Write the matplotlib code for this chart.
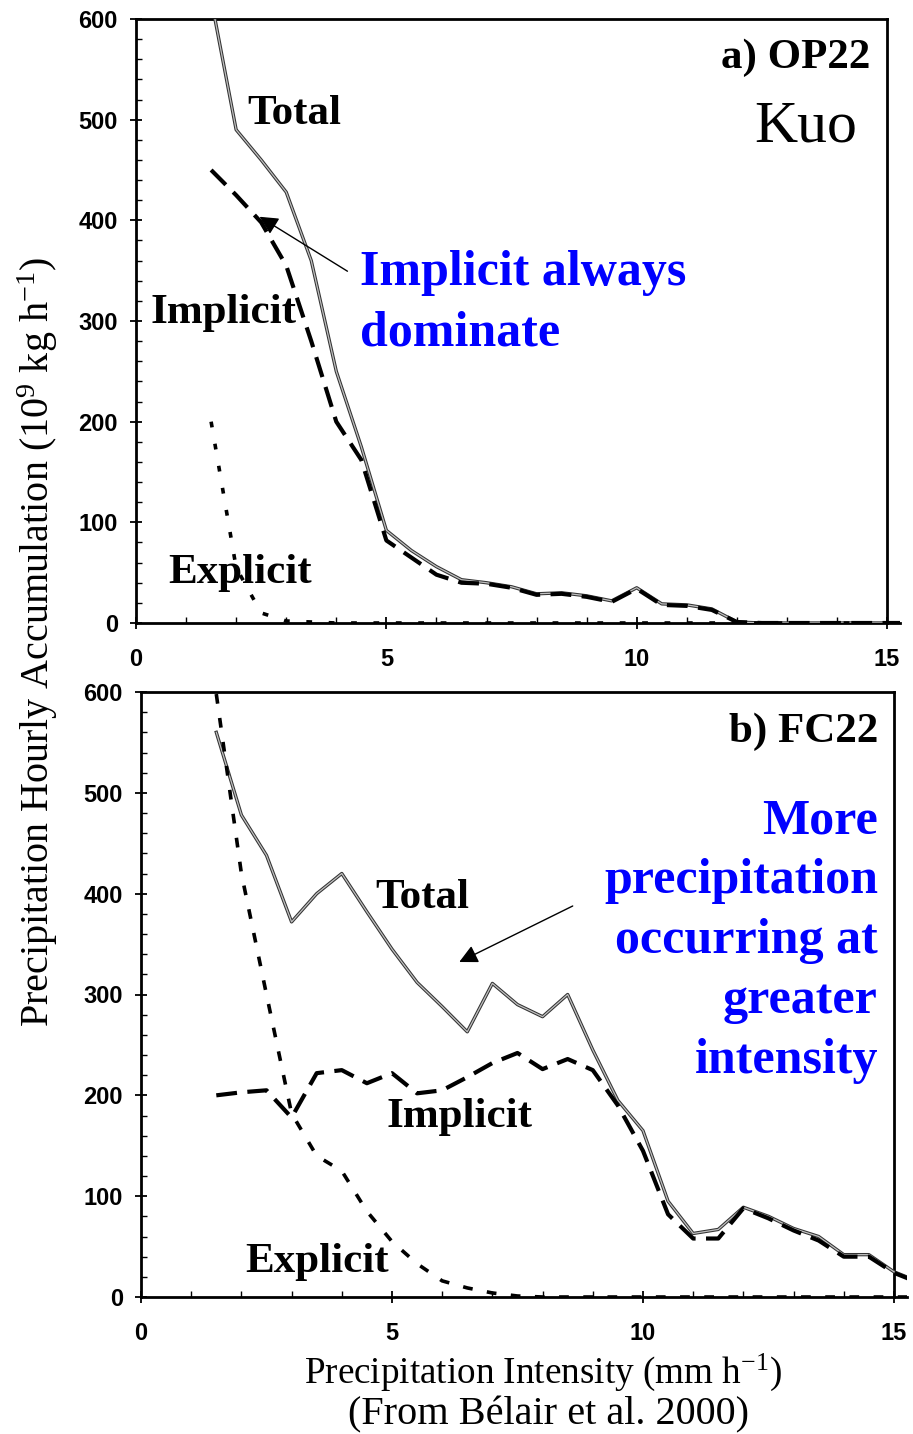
import matplotlib
matplotlib.use("Agg")
import matplotlib.pyplot as plt
from matplotlib.ticker import MultipleLocator

# precipitation intensity bins (mm h-1)
intensity = [1.5, 2.0, 2.5, 3.0, 3.5, 4.0, 4.5, 5.0, 5.5, 6.0, 6.5, 7.0, 7.5, 8.0,
             8.5, 9.0, 9.5, 10.0, 10.5, 11.0, 11.5, 12.0, 12.5, 13.0, 13.5, 14.0,
             14.5, 15.0, 15.5]

# a) OP22 (Kuo)
op22_total = [620, 490, 460, 428, 360, 250, 175, 92, 72, 56, 43, 40, 36, 29,
              30, 27, 22, 35, 19, 18, 14, 1, 0, 0, 0, 0, 0, 0, 0]
op22_implicit = [450, 425, 398, 355, 280, 200, 162, 82, 65, 48, 40, 39, 35, 28,
                 29, 26, 21, 34, 18, 17, 13, 1, 0, 0, 0, 0, 0, 0, 0]
op22_explicit = [200, 55, 10, 2, 1, 0, 0, 0, 0, 0, 0, 0, 0, 0,
                 0, 0, 0, 0, 0, 0, 0, 0, 0, 0, 0, 0, 0, 0, 0]

# b) FC22
fc22_total = [560, 478, 438, 372, 400, 420, 382, 345, 312, 288, 263, 311, 290, 278,
              300, 245, 195, 165, 95, 63, 67, 89, 80, 68, 60, 42, 42, 25, 15]
fc22_implicit = [200, 203, 205, 178, 222, 225, 212, 222, 202, 205, 218, 232, 242, 226,
                 236, 225, 190, 145, 82, 58, 58, 88, 78, 66, 56, 40, 40, 24, 14]
fc22_explicit = [598, 420, 300, 182, 140, 125, 85, 55, 33, 16, 9, 4, 1, 0,
                 0, 0, 0, 0, 0, 0, 0, 0, 0, 0, 0, 0, 0, 0, 0]

SERIF = "Liberation Serif"
SANS = "Liberation Sans"
BLUE = "#0000ff"

plt.rcParams["mathtext.fontset"] = "custom"
plt.rcParams["mathtext.rm"] = SERIF
plt.rcParams["mathtext.it"] = SERIF + ":italic"
plt.rcParams["mathtext.bf"] = SERIF + ":bold"

W, H = 913, 1434
fig = plt.figure(figsize=(W / 100, H / 100), dpi=100)


def px_axes(left, top, right, bottom):
    return fig.add_axes([left / W, 1 - bottom / H, (right - left) / W, (bottom - top) / H])


def style_axes(ax):
    ax.set_xlim(0, 15.25)
    ax.set_ylim(0, 600)
    ax.xaxis.set_major_locator(MultipleLocator(5))
    ax.xaxis.set_minor_locator(MultipleLocator(1))
    ax.yaxis.set_major_locator(MultipleLocator(100))
    ax.yaxis.set_minor_locator(MultipleLocator(20))
    ax.tick_params(which="major", direction="inout", length=8, width=1.3,
                   labelsize=17, labelfontfamily=SANS)
    ax.tick_params(which="minor", direction="in", length=4, width=1)
    ax.tick_params(axis="x", which="major", pad=14)
    ax.tick_params(axis="y", which="major", pad=9)
    for lab in ax.get_xticklabels() + ax.get_yticklabels():
        lab.set_fontweight("bold")
    ax.spines["top"].set_visible(False)
    ax.spines["right"].set_visible(False)
    ax.spines["left"].set_linewidth(2)
    ax.spines["bottom"].set_linewidth(2)
    # frame only reaches x = 15, the bottom axis runs a bit further
    ax.plot([0, 15], [600, 600], color="black", lw=2, clip_on=False)
    ax.plot([15, 15], [0, 600], color="black", lw=2, clip_on=False)


def draw_series(ax, total, implicit, explicit, expl_dash):
    ax.plot(intensity, total, color="#333333", lw=2.4, zorder=3)
    ax.plot(intensity, total, color="#c0c0c0", lw=0.9, zorder=3)
    ax.plot(intensity, implicit, color="black", lw=3, linestyle=(0, (5, 2.5)), zorder=4)
    ax.plot(intensity, explicit, color="black", lw=2.6, linestyle=expl_dash, zorder=4)


label_kw = dict(fontfamily=SERIF, fontweight="bold", fontsize=31, va="baseline")
blue_kw = dict(fontfamily=SERIF, fontweight="bold", fontsize=36, color=BLUE, va="baseline")
panel_kw = dict(fontfamily=SERIF, fontweight="bold", fontsize=31, va="baseline", ha="right")

# ---- panel a ----
ax1 = px_axes(136, 19, 899.6, 623)
draw_series(ax1, op22_total, op22_implicit, op22_explicit, (0, (1.6, 4.6)))
style_axes(ax1)
ax1.text(2.22, 496, "Total", **label_kw)
ax1.text(0.28, 298, "Implicit", **label_kw)
ax1.text(0.64, 40, "Explicit", **label_kw)
ax1.text(14.66, 551, "a) OP22", **panel_kw)
ax1.text(14.4, 478, "Kuo", ha="right", fontfamily=SERIF, fontsize=43, va="baseline")
ax1.text(4.47, 336, "Implicit always", **blue_kw)
ax1.text(4.47, 276, "dominate", **blue_kw)
ax1.annotate("", xy=(2.42, 405), xytext=(4.27, 348),
             arrowprops=dict(arrowstyle="-|>", color="black", lw=1, mutation_scale=28))

# ---- panel b ----
ax2 = px_axes(141, 692, 906.5, 1297)
draw_series(ax2, fc22_total, fc22_implicit, fc22_explicit, (0, (2.7, 4)))
style_axes(ax2)
ax2.text(4.66, 386, "Total", **label_kw)
ax2.text(4.9, 169, "Implicit", **label_kw)
ax2.text(2.07, 25, "Explicit", **label_kw)
ax2.text(14.68, 550, "b) FC22", **panel_kw)
blue_lines = ["More", "precipitation", "occurring at", "greater", "intensity"]
blue_base = [460, 401, 341, 282, 222]
for line, yb in zip(blue_lines, blue_base):
    ax2.text(14.68, yb, line, ha="right", **blue_kw)
ax2.annotate("", xy=(6.29, 331), xytext=(8.65, 389),
             arrowprops=dict(arrowstyle="-|>", color="black", lw=1, mutation_scale=28))

# ---- shared labels ----
fig.text(38 / W, 1 - 642 / H,
         r"Precipitation Hourly Accumulation (10$^{9}$ kg h$^{-1}$)",
         rotation=90, ha="center", va="center", fontfamily=SERIF, fontsize=28.9)
fig.text(543 / W, 1 - 1372 / H, r"Precipitation Intensity (mm h$^{-1}$)",
         ha="center", va="center", fontfamily=SERIF, fontsize=26.7)
fig.text(548 / W, 1 - 1415 / H, "(From Bélair et al. 2000)",
         ha="center", va="center", fontfamily=SERIF, fontsize=29)

fig.savefig("out.png", dpi=100)
